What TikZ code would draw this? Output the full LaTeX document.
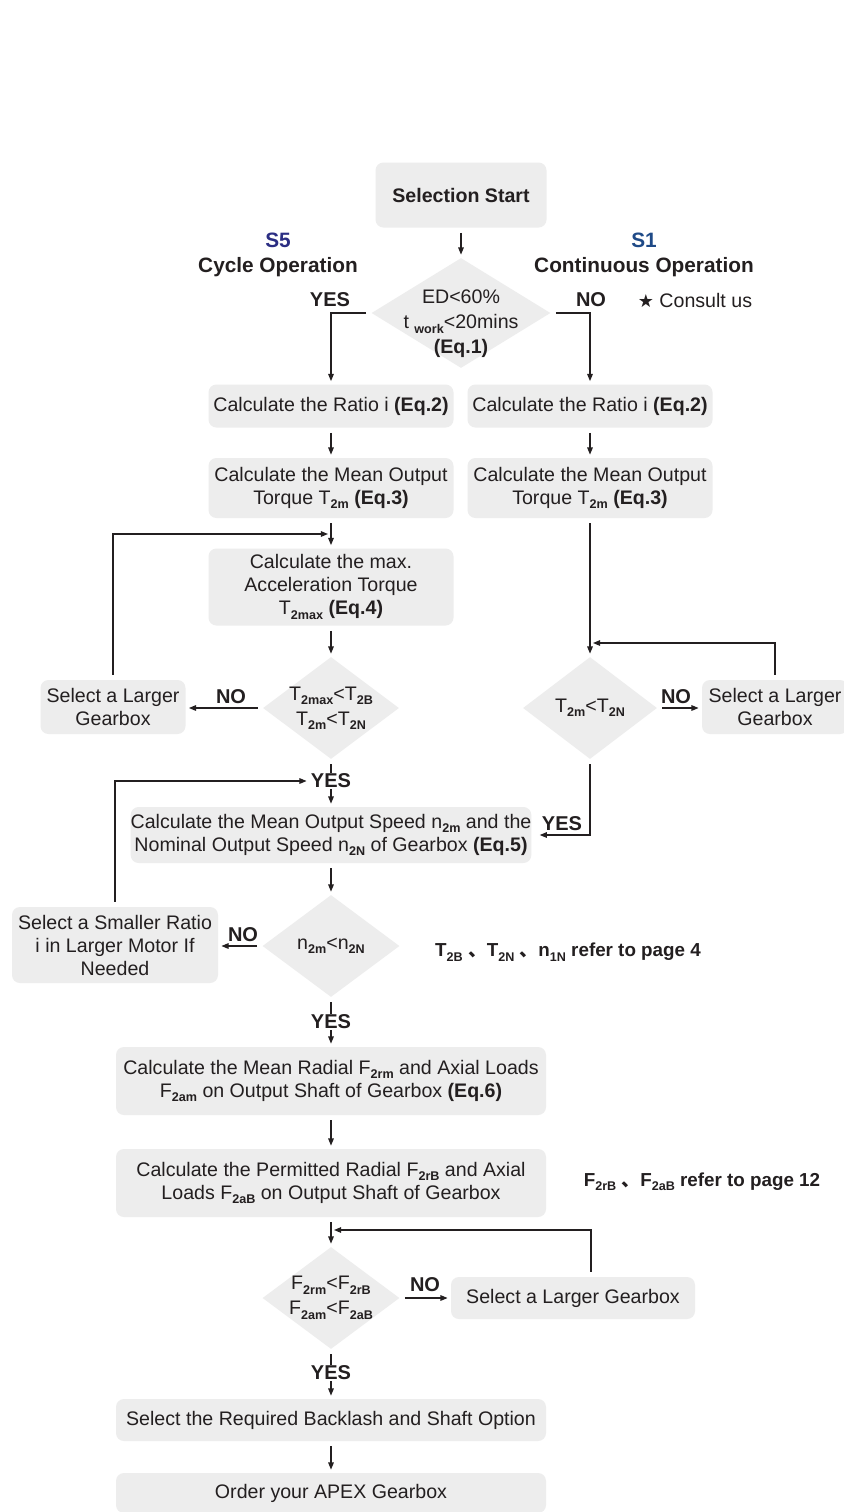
\documentclass[tikz,border=0pt]{standalone}
\usepackage{fontspec}
\setmainfont{Liberation Sans}
\newfontfamily\starfont{DejaVu Sans}
\newfontfamily\cjkfont{Noto Sans CJK SC}
\usepackage{xcolor}
\usetikzlibrary{positioning, arrows.meta, shapes.geometric}

\definecolor{boxgray}{HTML}{EDEDED}
\definecolor{inkblack}{HTML}{231F20}
\definecolor{sfivecol}{HTML}{2B2E83}
\definecolor{sonecol}{HTML}{1F4A87}

\newcommand{\subidx}[1]{\raisebox{-2.2pt}{\fontsize{6.3}{7}\selectfont\bfseries #1}}
\newcommand{\dunhao}{{\cjkfont 、}}

\tikzset{
    box/.style={fill=boxgray, rounded corners=4pt, align=center, inner sep=0pt, text=inkblack, font=\fontsize{9.8}{11.5}\selectfont},
    dia/.style={diamond, fill=boxgray, inner sep=0pt, aspect=1},
    lbl/.style={align=center, text=inkblack, font=\fontsize{9.8}{12.5}\selectfont},
    head/.style={align=center, text=inkblack, font=\fontsize{10.4}{12.5}\selectfont\bfseries},
    tag/.style={text=inkblack, font=\fontsize{10}{12}\selectfont\bfseries},
    remark/.style={text=inkblack, font=\fontsize{9.4}{12}\selectfont\bfseries},
    line/.style={draw=inkblack, line width=0.6pt, shorten <=2.5pt},
    flow/.style={line, shorten >=1.5pt, -{Triangle[length=3.6pt,width=2.8pt]}},
}

\begin{document}
\begin{tikzpicture}[x=0.5pt, y=-0.5pt]
    \fill[white] (0,0) rectangle (843,1512);
    \useasboundingbox (0,0) rectangle (843,1512);

    \node[box, font=\fontsize{9.8}{11.5}\selectfont\bfseries, minimum width=85.5pt, minimum height=32.5pt] (start) at (461,195) {Selection Start};
    \node[head] (s5) at (278,255) {{\color{sfivecol}S5}\\Cycle Operation};
    \node[head] (s1) at (644,255) {{\color{sonecol}S1}\\Continuous Operation};

    \node[dia, minimum width=89.5pt, minimum height=55pt, label={[lbl, yshift=-5.5pt]center:{ED<60\%\\t \subidx{work}<20mins\\\textbf{(Eq.1)}}}] (d1) at (461,313) {};
    \node[tag] (yes1) at (330,300) {YES};
    \node[tag] (no1) at (591,300) {NO};
    \node[lbl] (consult) at (695,300) {{\starfont\small ★}\ Consult us};

    \node[box, minimum width=122.5pt, minimum height=21.5pt] (b2l) at (331,406) {Calculate the Ratio i \textbf{(Eq.2)}};
    \node[box, minimum width=122.5pt, minimum height=21.5pt] (b2r) at (590,406) {Calculate the Ratio i \textbf{(Eq.2)}};
    \node[box, minimum width=122.5pt, minimum height=30pt] (b3l) at (331,488) {Calculate the Mean Output\\Torque T\subidx{2m} \textbf{(Eq.3)}};
    \node[box, minimum width=122.5pt, minimum height=30pt] (b3r) at (590,488) {Calculate the Mean Output\\Torque T\subidx{2m} \textbf{(Eq.3)}};
    \node[box, minimum width=122.5pt, minimum height=38.5pt] (b4) at (331,587) {Calculate the max.\\Acceleration Torque\\T\subidx{2max} \textbf{(Eq.4)}};

    \node[dia, minimum width=68pt, minimum height=51pt, label={[lbl]center:{T\subidx{2max}<T\subidx{2B}\\T\subidx{2m}<T\subidx{2N}}}] (d2) at (331,708) {};
    \node[box, minimum width=72.5pt, minimum height=27pt] (s5big) at (113,707) {Select a Larger\\Gearbox};
    \node[tag] (no2) at (231,697) {NO};

    \node[dia, minimum width=67pt, minimum height=51pt, label={[lbl]center:{T\subidx{2m}<T\subidx{2N}}}] (d3) at (590,708) {};
    \node[box, minimum width=73pt, minimum height=27pt] (s1big) at (775,707) {Select a Larger\\Gearbox};
    \node[tag] (no3) at (676,697) {NO};

    \node[tag, inner sep=0.5pt] (yes2) at (331,781) {YES};
    \node[tag] (yes3) at (562,824) {YES};
    \node[box, minimum width=194pt, minimum height=28pt] (b5) at (331,835) {Calculate the Mean Output Speed n\subidx{2m} and the\\Nominal Output Speed n\subidx{2N} of Gearbox \textbf{(Eq.5)}};

    \node[dia, minimum width=68.5pt, minimum height=51pt, label={[lbl]center:{n\subidx{2m}<n\subidx{2N}}}] (d4) at (331,946) {};
    \node[box, minimum width=103pt, minimum height=38pt] (smaller) at (115,945) {Select a Smaller Ratio\\i in Larger Motor If\\Needed};
    \node[tag] (no4) at (243,935) {NO};
    \node[remark] (pagefour) at (568,952) {T\subidx{2B}\ \dunhao T\subidx{2N}\ \dunhao n\subidx{1N} refer to page 4};

    \node[tag, inner sep=0.5pt] (yes4) at (331,1022) {YES};
    \node[box, minimum width=215pt, minimum height=34pt] (b6) at (331,1081) {Calculate the Mean Radial F\subidx{2rm} and Axial Loads\\F\subidx{2am} on Output Shaft of Gearbox \textbf{(Eq.6)}};
    \node[box, minimum width=215pt, minimum height=34pt] (b7) at (331,1183) {Calculate the Permitted Radial F\subidx{2rB} and Axial\\Loads F\subidx{2aB} on Output Shaft of Gearbox};
    \node[remark] (pagetwelve) at (702,1182) {F\subidx{2rB}\ \dunhao F\subidx{2aB} refer to page 12};

    \node[dia, minimum width=68.5pt, minimum height=51pt, label={[lbl]center:{F\subidx{2rm}<F\subidx{2rB}\\F\subidx{2am}<F\subidx{2aB}}}] (d5) at (331,1298) {};
    \node[box, minimum width=122pt, minimum height=21pt] (bigger) at (573,1298) {Select a Larger Gearbox};
    \node[tag] (no5) at (425,1285) {NO};
    \node[tag, inner sep=0.5pt] (yes5) at (331,1373) {YES};
    \node[box, minimum width=215pt, minimum height=21pt] (b8) at (331,1420) {Select the Required Backlash and Shaft Option};
    \node[box, minimum width=215pt, minimum height=20pt] (b9) at (331,1493) {Order your APEX Gearbox};

    \coordinate (j1) at (331,534);
    \coordinate (j2) at (590,643);
    \coordinate (j3) at (331,1230);

    \draw[flow] (start.south) -- (d1.north);
    \draw[flow] (d1.west) -| (b2l.north);
    \draw[flow] (d1.east) -| (b2r.north);
    \draw[flow] (b2l.south) -- (b3l.north);
    \draw[flow] (b2r.south) -- (b3r.north);
    \draw[flow] (b3l.south) -- (b4.north);
    \draw[flow] (s5big.north) |- (j1);
    \draw[flow] (b4.south) -- (d2.north);
    \draw[flow] (d2.west) -- (d2.west -| s5big.east);

    \draw[flow] (b3r.south) -- (d3.north);
    \draw[flow] (s1big.north) |- (j2);
    \draw[flow] (d3.east) -- (d3.east -| s1big.west);
    \draw[flow, shorten >=4pt] (d3.south) |- (b5.east);

    \draw[line] (d2.south) -- (yes2.north);
    \draw[flow, shorten <=0pt] (yes2.south) -- (b5.north);
    \draw[flow] (smaller.north) |- (yes2.west);
    \draw[flow] (b5.south) -- (d4.north);
    \draw[flow] (d4.west) -- (d4.west -| smaller.east);

    \draw[line] (d4.south) -- (yes4.north);
    \draw[flow, shorten <=0pt] (yes4.south) -- (b6.north);
    \draw[flow] (b6.south) -- (b7.north);
    \draw[flow] (b7.south) -- (d5.north);
    \draw[flow] ([xshift=9pt]bigger.north) |- (j3);
    \draw[flow] (d5.east) -- (d5.east -| bigger.west);
    \draw[line] (d5.south) -- (yes5.north);
    \draw[flow, shorten <=0pt] (yes5.south) -- (b8.north);
    \draw[flow] (b8.south) -- (b9.north);
\end{tikzpicture}
\end{document}
